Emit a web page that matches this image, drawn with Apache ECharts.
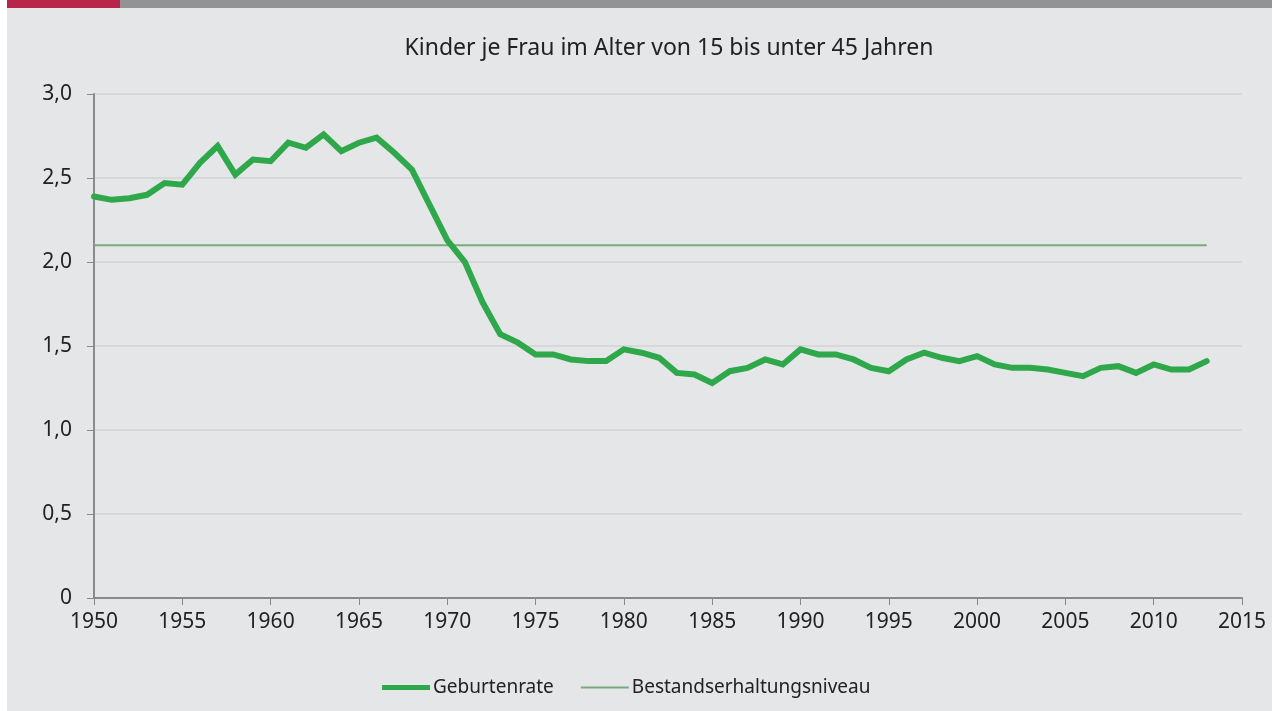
<!DOCTYPE html>
<html>
<head>
<meta charset="utf-8">
<script src="https://cdn.jsdelivr.net/npm/echarts@6/dist/echarts.min.js"></script>
<style>
html,body{margin:0;padding:0;background:#ffffff;}
#chart{width:1272px;height:711px;}
</style>
</head>
<body>
<div id="chart"></div>
<script>
const years = [];
for (let y = 1950; y <= 2013; y++) years.push(y);
const geburtenrate = [
  2.39, 2.37, 2.38, 2.40, 2.47, 2.46, 2.59, 2.69, 2.52, 2.61,
  2.60, 2.71, 2.68, 2.76, 2.66, 2.71, 2.74, 2.65, 2.55, 2.34,
  2.13, 2.00, 1.76, 1.57, 1.52, 1.45, 1.45, 1.42, 1.41, 1.41,
  1.48, 1.46, 1.43, 1.34, 1.33, 1.28, 1.35, 1.37, 1.42, 1.39,
  1.48, 1.45, 1.45, 1.42, 1.37, 1.35, 1.42, 1.46, 1.43, 1.41,
  1.44, 1.39, 1.37, 1.37, 1.36, 1.34, 1.32, 1.37, 1.38, 1.34,
  1.39, 1.36, 1.36, 1.41
];
const bestandserhaltung = [[1950, 2.1], [2013, 2.1]];
const titleText = 'Kinder je Frau im Alter von 15 bis unter 45 Jahren';
const seriesNames = ['Geburtenrate', 'Bestandserhaltungsniveau'];

const chart = echarts.init(document.getElementById('chart'));
const font = '"Noto Sans", "Open Sans", sans-serif';
chart.setOption({
  backgroundColor: '#e5e6e8',
  animation: false,
  textStyle: {fontFamily: font},
  graphic: [
    {type: 'rect', left: 0, top: 0, shape: {width: 7, height: 711}, style: {fill: '#ffffff'}, z: 100},
    {type: 'rect', left: 7, top: 0, shape: {width: 113, height: 8}, style: {fill: '#b8254a'}, z: 100},
    {type: 'rect', left: 120, top: 0, shape: {width: 1152, height: 8}, style: {fill: '#939396'}, z: 100}
  ],
  title: {
    text: titleText,
    left: 664, top: 32, textAlign: 'center',
    textStyle: {fontFamily: font, fontSize: 23, fontWeight: 'normal', color: '#222222'}
  },
  legend: {
    bottom: 9, left: 377,
    itemWidth: 48, itemHeight: 14, itemGap: 27,
    textStyle: {fontFamily: font, fontSize: 19, color: '#222222', padding: [0, 0, 0, -2]},
    data: [
      {name: seriesNames[0], icon: 'path://M0,4.5 L48,4.5 L48,9.5 L0,9.5 Z', itemStyle: {color: '#2ea84b'}},
      {name: seriesNames[1], icon: 'path://M0,6 L48,6 L48,8 L0,8 Z', itemStyle: {color: '#7aaa7a'}}
    ]
  },
  grid: {left: 94, right: 30, top: 94, bottom: 113, containLabel: false},
  xAxis: {
    type: 'value', min: 1950, max: 2015, interval: 5,
    axisLine: {show: true, lineStyle: {color: '#8a8a8a', width: 2}},
    axisTick: {show: true, length: 7, lineStyle: {color: '#8a8a8a', width: 1}},
    splitLine: {show: false},
    axisLabel: {fontFamily: font, fontSize: 21, color: '#222222', margin: 14, formatter: v => String(v)}
  },
  yAxis: {
    type: 'value', min: 0, max: 3, interval: 0.5,
    axisLine: {show: true, lineStyle: {color: '#8a8a8a', width: 2}},
    axisTick: {show: true, length: 7, lineStyle: {color: '#8a8a8a', width: 1}},
    splitLine: {show: true, lineStyle: {color: '#d2d3d5', width: 1.5}},
    axisLabel: {fontFamily: font, fontSize: 21, color: '#222222', margin: 22,
      formatter: v => v === 0 ? '0' : v.toFixed(1).replace('.', ',')}
  },
  series: [
    {
      name: seriesNames[0], type: 'line', showSymbol: false, symbol: 'none',
      data: years.map((y, i) => [y, geburtenrate[i]]),
      lineStyle: {color: '#2ea84b', width: 6, join: 'miter', cap: 'round'},
      itemStyle: {color: '#2ea84b'}, z: 3
    },
    {
      name: seriesNames[1], type: 'line', showSymbol: false, symbol: 'none',
      data: bestandserhaltung,
      lineStyle: {color: '#7aaa7a', width: 2},
      itemStyle: {color: '#7aaa7a'}, z: 2
    }
  ]
});
</script>
</body>
</html>
